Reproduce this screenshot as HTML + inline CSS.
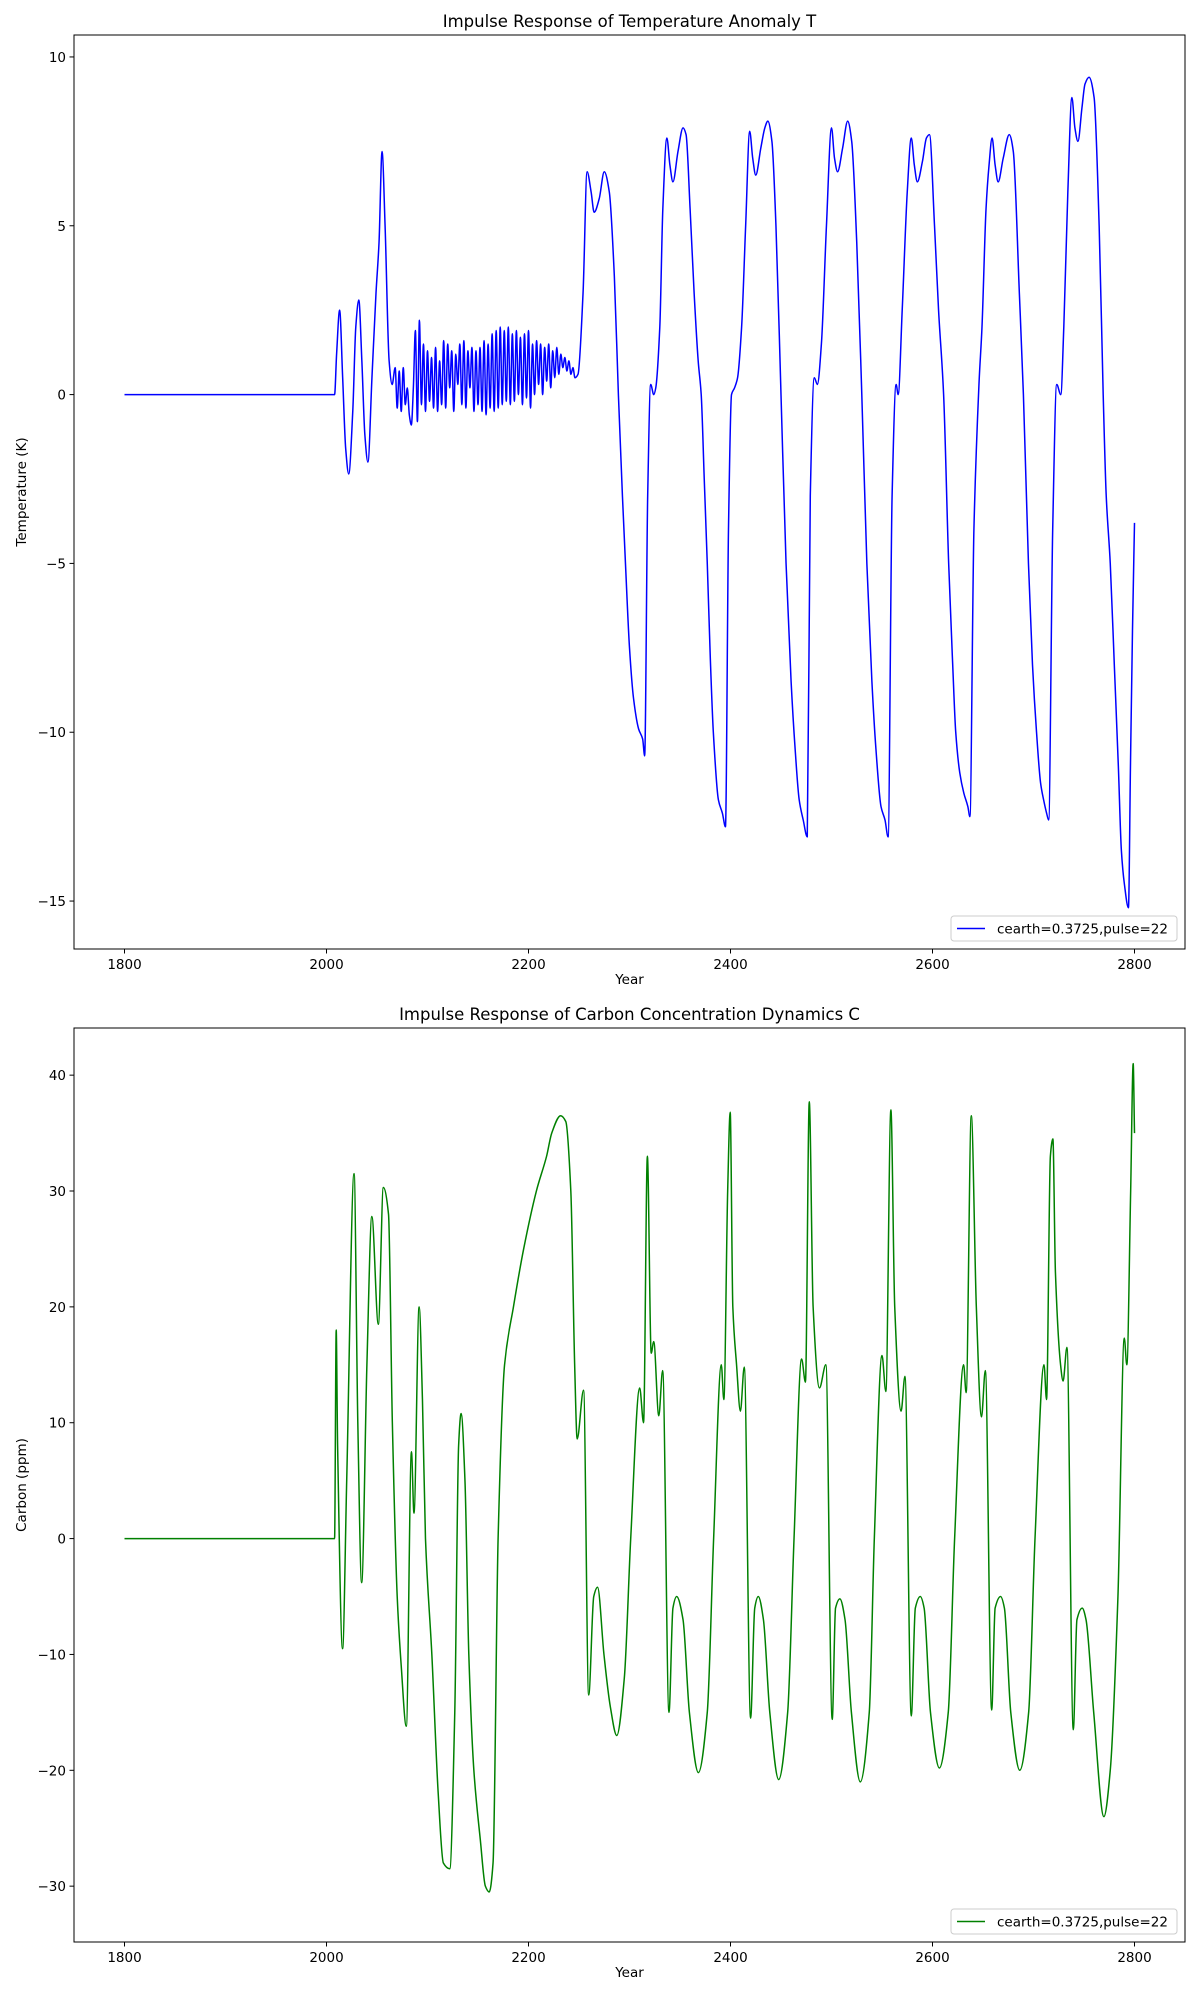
<!DOCTYPE html>
<html><head><meta charset="utf-8">
<style>
html,body{margin:0;padding:0;background:#fff;}
svg{display:block;font-family:"DejaVu Sans","Liberation Sans",sans-serif;}
</style></head>
<body>
<svg id="fig" width="1200" height="2000" viewBox="0 0 1200 2000"></svg>
<script>
// ---- data ----
const tYearsEarly = [1800,2008,2010,2013,2016,2019,2022,2026,2029,2032,
2035,2038,2041,2045,2049,2052,2055,2058,2062,2065,
2068,2070,2072,2074,2076,2078,2080,2082,2084,2086];
const tValsEarly = [0,0,1.2,2.5,0.5,-1.6,-2.35,-0.5,2.0,2.8,
1.0,-1.2,-2.0,0.5,3.0,4.5,7.2,5.0,1.0,0.3,
0.8,-0.4,0.7,-0.5,0.8,-0.3,0.2,-0.6,-0.9,0.2];
const tYearsDense = [2088,2090,2092,2094,2096,2098,2100,2102,2104,2106,
2108,2110,2112,2114,2116,2118,2120,2122,2124,2126,
2128,2130,2132,2134,2136,2138,2140,2142,2144,2146,
2148,2150,2152,2154,2156,2158,2160,2162,2164,2166,
2168,2170,2172,2174,2176,2178,2180,2182,2184,2186,
2188,2190,2192,2194,2196,2198,2200,2202,2204,2206,
2208,2210,2212,2214,2216,2218,2220,2222,2224,2226,
2228,2230,2232,2234,2236,2238,2240,2242,2244,2246];
const tValsDense = [1.9,-0.8,2.2,-0.3,1.5,-0.5,1.3,-0.2,1.1,-0.4,
1.4,-0.5,1.0,-0.3,1.6,-0.4,1.5,0.2,1.3,-0.5,
1.2,0.3,1.5,-0.3,1.6,-0.4,1.3,0.2,1.4,-0.5,
1.3,-0.3,1.4,-0.5,1.6,-0.6,1.5,-0.4,1.8,-0.5,
1.9,-0.4,2.0,-0.3,1.9,-0.2,2.0,-0.3,1.8,-0.2,
1.9,0.0,1.7,-0.3,1.8,-0.1,1.9,-0.4,1.5,0.0,
1.6,0.3,1.5,0.0,1.4,0.4,1.5,0.2,1.3,0.5,
1.4,0.6,1.2,0.8,1.1,0.7,1.0,0.6,0.8,0.5];
const tYearsLate = [2249,2254,2258,2262,2265,2270,2275,2280,2285,2289,
2293,2296,2300,2304,2309,2313,2315,2318,2321,2324,
2326,2330,2333,2337,2340,2343,2348,2353,2356,2360,
2364,2368,2371,2374,2377,2380,2383,2388,2392,2395,
2398,2401,2404,2407,2411,2415,2419,2422,2425,2430,
2434,2437,2441,2445,2450,2455,2460,2464,2468,2472,
2476,2479,2483,2486,2490,2495,2500,2503,2506,2511,
2516,2520,2525,2530,2535,2540,2544,2549,2553,2556,
2560,2564,2566,2570,2575,2579,2582,2585,2590,2594,
2597,2602,2606,2611,2616,2620,2623,2627,2631,2635,
2637,2641,2646,2649,2653,2656,2659,2662,2665,2670,
2676,2680,2686,2690,2695,2699,2703,2707,2710,2713,
2715,2719,2723,2727,2730,2734,2738,2741,2744,2748,
2751,2755,2760,2765,2769,2772,2776,2780,2784,2787,
2790,2794,2796,2798,2800];
const tValsLate = [0.6,3.0,6.6,6.0,5.4,5.8,6.6,6.0,3.5,0.0,
-3.0,-5.0,-7.5,-9.0,-9.9,-10.2,-10.7,-3.0,0.3,0.0,
0.2,2.0,5.5,7.6,6.8,6.3,7.2,7.9,7.7,5.5,
3.0,1.0,0.0,-2.5,-5.0,-7.8,-10.0,-12.0,-12.4,-12.8,
-4.0,0.0,0.2,0.5,2.0,5.0,7.8,7.0,6.5,7.3,
7.9,8.1,7.5,5.0,0.0,-5.0,-8.5,-10.5,-12.0,-12.6,
-13.1,-3.0,0.5,0.3,1.5,5.0,7.9,7.0,6.6,7.3,
8.1,7.5,4.5,0.0,-5.0,-8.5,-10.5,-12.2,-12.6,-13.1,
-3.0,0.3,0.0,2.5,6.0,7.6,6.8,6.3,6.9,7.6,
7.7,5.0,2.5,0.0,-5.0,-8.0,-10.0,-11.2,-11.8,-12.2,
-12.5,-4.0,0.3,2.0,5.5,6.8,7.6,6.8,6.3,7.0,
7.7,7.2,3.0,0.0,-5.0,-8.0,-10.0,-11.5,-12.0,-12.4,
-12.6,-4.0,0.3,0.0,2.0,6.0,8.8,7.9,7.5,8.5,
9.2,9.4,8.8,5.0,0.0,-3.0,-5.0,-8.0,-11.0,-13.5,
-14.5,-15.2,-11.0,-7.0,-3.8];

const cYears = [1800,2008,2009.6,2011,2015.9,2020,2027.3,2031,2034.8,2040,2044.9,2051.3,2056.3,2061.4,2065.2,2070,2074,2079,2084.1,2086.6,2091.7,2095,2098,2104.3,2110.6,2115.7,2122,2127,2130.8,2133.3,2137.1,2140.9,2145.9,2152.3,2157.3,2161.1,2164.9,2169.9,2176.3,2185.1,2195.2,2207.8,2217.9,2223,2231.8,2236.9,2241.9,2245.7,2248.2,2254.5,2259.6,2264.6,2268.4,2274.7,2281,2287.4,2294.9,2301.2,2310.1,2313.9,2317.7,2321.5,2324,2329,2332.8,2339.1,2343,2346.7,2353,2359.3,2368.2,2377,2383.3,2390.9,2393.4,2397.2,2399.7,2402.3,2406,2409.8,2413.6,2419.9,2424,2427.5,2432.6,2438.9,2447.7,2456.6,2462.9,2470.4,2474.2,2478,2481.8,2488.1,2494.4,2500.7,2504,2508.3,2513.4,2519.7,2528.5,2537.4,2542.4,2550,2553.8,2558.8,2562.6,2568.9,2572.7,2579,2583,2587.9,2591.7,2598,2606.8,2615.6,2621.9,2630.8,2633.3,2638.4,2643.4,2648.5,2652.3,2658.6,2662,2667.4,2671.2,2677.5,2686.4,2695.2,2701.5,2710.4,2712.9,2716.7,2719.2,2721.7,2726.8,2729.3,2733.1,2739.4,2743,2748.2,2752,2759.6,2769.7,2776,2783.6,2789.9,2792.4,2796.2,2798.7,2800];
const cVals = [0,0,18,8,-9.5,5,31.5,10,-3.8,15,27.8,18.5,30.3,28,10,-5,-11,-16.2,7.5,2.2,20,12,0,-10,-22,-28,-28.5,-15,8,10.8,5,-10,-20,-26,-30,-30.5,-28,0,15,20,25,30,33,35,36.5,36,30,15,8.6,12.8,-13.5,-5,-4.2,-10,-14.5,-17,-12,0,13,10,33,16,17,10.6,14.5,-15,-6,-5,-7,-15,-20.2,-15,0,15,12,30,36.8,20,15,11,14.8,-15.5,-6,-5,-7,-15,-20.8,-15,0,15.5,13.5,37.7,20,13,15,-15.6,-6,-5.2,-7,-15,-21,-15,0,15.8,12.7,37,20,11,14,-15.3,-6,-5,-6,-15,-19.8,-15,0,15,12.6,36.5,20,10.5,14.5,-14.8,-6,-5,-6,-15,-20,-15,0,15,12,33,34.5,23,15,13.6,16.5,-16.5,-7,-6,-7,-15,-24,-20,-5,17.3,15,30,41,35];

const xTicks = [1800,2000,2200,2400,2600,2800];
const tTicks = [10,5,0,-5,-10,-15];
const cTicks = [40,30,20,10,0,-10,-20,-30];

const tYears = tYearsEarly.concat(tYearsDense, tYearsLate);
const tVals = tValsEarly.concat(tValsDense, tValsLate);

// ---- layout ----
const NS = "http://www.w3.org/2000/svg";
const svg = document.getElementById('fig');
const L = 74, R = 1185;
function xs(y){ return L + (y - 1750) / 1100 * (R - L); }
function mk(tag, attrs, parent){
  const e = document.createElementNS(NS, tag);
  for (const k in attrs) e.setAttribute(k, attrs[k]);
  (parent || svg).appendChild(e);
  return e;
}
// monotone cubic (Fritsch-Carlson) - no overshoot
function smoothPath(px, py){
  const n = Math.min(px.length, py.length);
  const d = [], m = [];
  for (let i = 0; i < n-1; i++) d.push((py[i+1]-py[i]) / Math.max(px[i+1]-px[i], 1e-6));
  for (let i = 0; i < n; i++){
    if (i === 0) m.push(d[0]);
    else if (i === n-1) m.push(d[n-2]);
    else if (d[i-1]*d[i] <= 0) m.push(0);
    else m.push(2 / (1/d[i-1] + 1/d[i]));
  }
  let s = 'M' + px[0].toFixed(2) + ',' + py[0].toFixed(2);
  for (let i = 0; i < n-1; i++){
    const h = px[i+1]-px[i];
    s += 'C' + (px[i]+h/3).toFixed(2)+','+(py[i]+m[i]*h/3).toFixed(2)+' '+(px[i+1]-h/3).toFixed(2)+','+(py[i+1]-m[i+1]*h/3).toFixed(2)+' '+px[i+1].toFixed(2)+','+py[i+1].toFixed(2);
  }
  return s;
}
function panel(cfg){
  const g = mk('g', {});
  
  
  const ys = v => cfg.top + (cfg.vTop - v) / (cfg.vTop - cfg.vBot) * (cfg.bot - cfg.top);
  const px = cfg.xs.map(xs), py = cfg.vs.map(ys);
  const line = mk('path', {d: smoothPath(px, py), fill:'none', stroke: cfg.color, 'stroke-width':1.5, 'stroke-linejoin':'round'}, g);
  
  
  const fr = mk('rect', {x:L, y:cfg.top, width:R-L, height:cfg.bot-cfg.top, fill:'none', stroke:'#000', 'stroke-width':1}, g);
  
  
  xTicks.forEach(t => {
    const x = xs(t);
    mk('line', {x1:x, x2:x, y1:cfg.bot, y2:cfg.bot+4.5, stroke:'#000', 'stroke-width':1}, g);
    const tx = mk('text', {x:x, y:cfg.bot+20, 'font-size':13.5, 'text-anchor':'middle'}, g);
    tx.textContent = t;
    
    
  });
  cfg.ticks.forEach(t => {
    const y = ys(t);
    mk('line', {x1:L-4.5, x2:L, y1:y, y2:y, stroke:'#000', 'stroke-width':1}, g);
    const tx = mk('text', {x:L-8, y:y+5, 'font-size':13.5, 'text-anchor':'end'}, g);
    tx.textContent = t < 0 ? '\u2212' + Math.abs(t) : String(t);
    
    
  });
  const title = mk('text', {x:(L+R)/2, y:cfg.top-8, 'font-size':16.5, 'text-anchor':'middle'}, g);
  title.textContent = cfg.title;
  
  
  const xl = mk('text', {x:(L+R)/2, y:cfg.bot+35, 'font-size':13.5, 'text-anchor':'middle'}, g);
  xl.textContent = 'Year';
  
  
  const cy = (cfg.top+cfg.bot)/2;
  const yl = mk('text', {x:0, y:0, 'font-size':13.5, 'text-anchor':'middle', transform:'translate(26,'+cy+') rotate(-90)'}, g);
  yl.textContent = cfg.ylabel;
  
  
  const lg = mk('g', {}, g);
  
  
  const ly = cfg.bot - 33;
  mk('rect', {x:951, y:ly, width:226, height:25, rx:3, fill:'#fff', 'fill-opacity':0.8, stroke:'#ccc', 'stroke-width':1}, lg);
  mk('line', {x1:957, x2:985, y1:ly+12.5, y2:ly+12.5, stroke:cfg.color, 'stroke-width':1.5}, lg);
  const lt = mk('text', {x:997, y:ly+17.5, 'font-size':13.5}, lg);
  lt.textContent = 'cearth=0.3725,pulse=22';
  
  
}
panel({name:'temperature-chart', top:35, bot:949, vTop:10.65, vBot:-16.42, xs:tYears, vs:tVals, color:'#0000ff', ticks:tTicks,
  title:'Impulse Response of Temperature Anomaly T', ylabel:'Temperature (K)'});
panel({name:'carbon-chart', top:1028, bot:1942, vTop:44.07, vBot:-34.82, xs:cYears, vs:cVals, color:'#008000', ticks:cTicks,
  title:'Impulse Response of Carbon Concentration Dynamics C', ylabel:'Carbon (ppm)'});
</script>
</body></html>
